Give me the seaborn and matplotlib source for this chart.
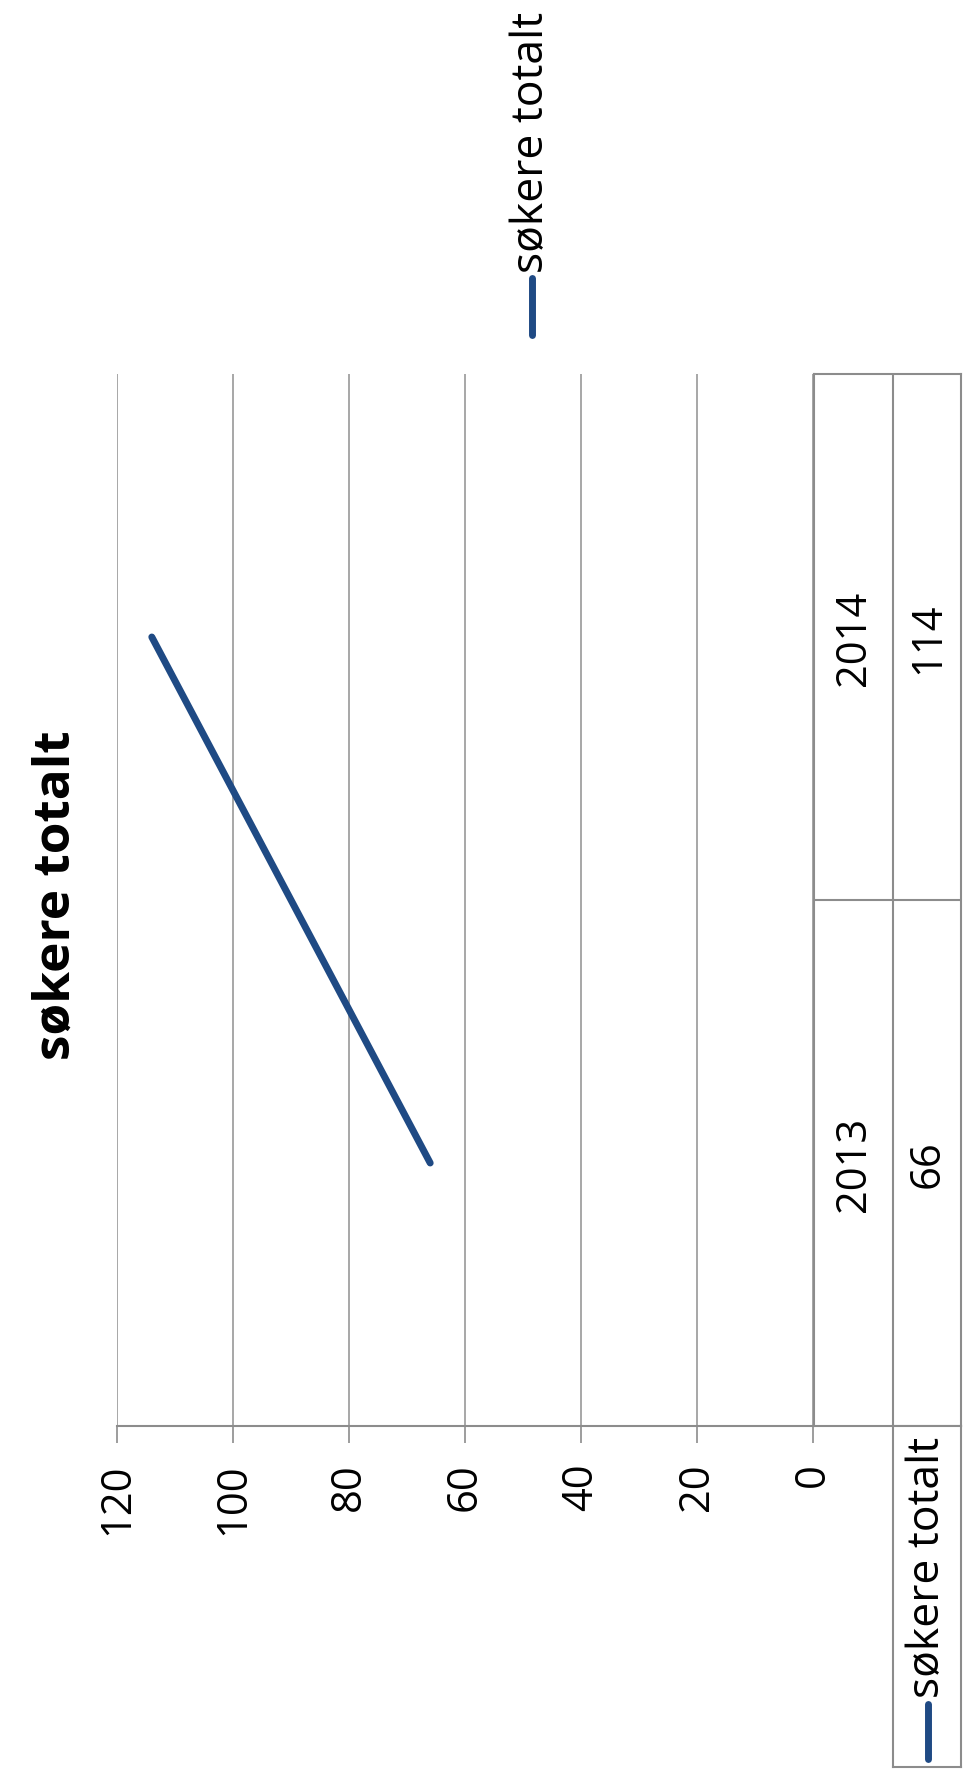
'''
søkere totalt - rotated Excel style line chart with data table
'''
import seaborn as sns
import pandas as pd
import matplotlib.pyplot as plt
from matplotlib.lines import Line2D

years = ['2013', '2014']
sokere = [66, 114]
value_ticks = [0, 20, 40, 60, 80, 100, 120]
series_name = 'søkere totalt'

data = pd.DataFrame({'year': years, 'pos': range(len(years)), 'sokere': sokere})

sns.set_style('white')
plt.rcParams['font.family'] = ['Open Sans', 'DejaVu Sans']
plt.rcParams['text.color'] = 'black'
plt.rcParams['xtick.color'] = 'black'

W, H = 964, 1783
line_color = '#1f4a84'
grid_color = '#a0a0a0'
border_color = '#8c8c8c'

fig = plt.figure(figsize=(W / 100, H / 100), dpi=100)


def box(x0, y0, x1, y1):
    # pixel box with top-left origin -> figure fraction rect
    return [x0 / W, 1 - y1 / H, (x1 - x0) / W, (y1 - y0) / H]


# plot area: values run right-to-left, categories bottom-to-top
ax = fig.add_axes(box(117, 375, 813, 1427))
sns.lineplot(data=data, x='sokere', y='pos', orient='y', color=line_color,
             linewidth=5, ax=ax)
ax.set_xlim(120, 0)
ax.set_ylim(-0.5, len(years) - 0.5)
ax.set_xticks(value_ticks)
ax.set_xticklabels(value_ticks, rotation=90, fontsize=30)
ax.tick_params(axis='x', bottom=True, length=12, width=1.2, color=border_color,
               labelcolor='black', pad=14)
ax.set_yticks([])
ax.grid(axis='x', color=grid_color, linewidth=1.3)
ax.grid(axis='y', visible=False)
for s in ['top', 'left', 'right']:
    ax.spines[s].set_visible(False)
ax.spines['bottom'].set_color(border_color)
ax.spines['bottom'].set_linewidth(1.5)
ax.set_xlabel('')
ax.set_ylabel('')

# data table
tab = fig.add_axes(box(814, 375, 961, 1427), sharey=ax)
tab.set_xlim(0, 1)
tab.tick_params(left=False, bottom=False, labelleft=False, labelbottom=False)
for s in tab.spines.values():
    s.set_color(border_color)
    s.set_linewidth(1.5)
col_split = (893 - 814) / (961 - 814)
tab.axvline(col_split, color=border_color, linewidth=1.5)
for i in range(1, len(years)):
    tab.axhline(i - 0.5, color=border_color, linewidth=1.5)
for i, (yr, v) in enumerate(zip(years, sokere)):
    tab.text((854 - 814) / (961 - 814), i, yr, rotation=90, ha='center', va='center',
             fontsize=30)
    tab.text((928 - 814) / (961 - 814), i, str(v), rotation=90, ha='center', va='center',
             fontsize=30)

# row header cell
hdr = fig.add_axes(box(893, 1427, 961, 1768))
hdr.set_xticks([])
hdr.set_yticks([])
for s in hdr.spines.values():
    s.set_color(border_color)
    s.set_linewidth(1.5)
fig.text(928 / W, 1 - 1437 / H, series_name, rotation=90, ha='center', va='top', fontsize=32)
fig.add_artist(Line2D([928 / W, 928 / W], [1 - 1705 / H, 1 - 1760 / H],
                      color=line_color, linewidth=5))

# legend
fig.text(532 / W, 1 - 273 / H, series_name, rotation=90, ha='center', va='bottom', fontsize=32)
fig.add_artist(Line2D([532 / W, 532 / W], [1 - 279 / H, 1 - 336 / H],
                      color=line_color, linewidth=5))

# title
fig.text(57 / W, 1 - 895 / H, series_name, rotation=90, ha='center', va='center',
         fontsize=37, fontweight='bold')

fig.savefig('out.png', dpi=100)
